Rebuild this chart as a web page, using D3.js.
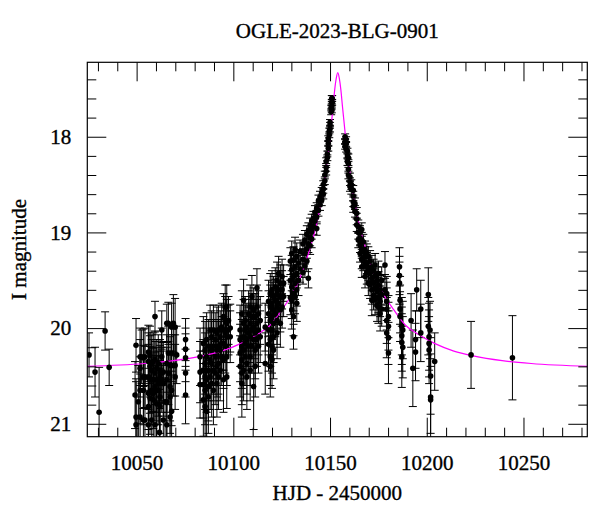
<!DOCTYPE html>
<html>
<head>
<meta charset="utf-8">
<script src="https://cdn.jsdelivr.net/npm/d3@7"></script>
<style>
  body { margin: 0; background: #fff; }
  text { font-family: "Liberation Serif", "Times New Roman", serif; }
</style>
</head>
<body>
<svg id="chart" width="600" height="512"></svg>
<script>
// light curve points: [HJD-2450000, I mag, error]
var earlyBase = [
  [10025.4,20.28,0.23],[10028.5,20.46,0.26],[10030.6,20.88,0.47],[10033.7,20.03,0.20],[10035.8,20.41,0.19]
];
var season1 = [
  [10049.2,20.70,0.35],[10049.7,20.18,0.28],[10049.7,20.93,0.40],[10049.7,21.01,0.45],
  [10050.9,20.77,0.38],
  [10051.8,20.30,0.30],[10051.8,20.42,0.30],[10051.8,20.65,0.35],[10051.8,20.93,0.45],
  [10052.6,20.30,0.28],
  [10053.5,20.31,0.30],[10053.5,20.51,0.33],[10053.5,20.65,0.36],[10053.5,20.96,0.42],
  [10054.3,20.30,0.30],[10054.3,20.51,0.32],[10054.3,20.96,0.45],
  [10056.1,20.25,0.28],[10056.1,20.35,0.30],[10056.1,20.51,0.34],[10056.1,20.68,0.38],[10056.1,20.82,0.40],[10056.1,21.01,0.45],
  [10056.9,20.28,0.30],[10056.9,20.40,0.32],[10056.9,20.54,0.35],[10056.9,20.73,0.38],
  [10057.8,20.37,0.30],[10057.8,20.44,0.32],[10057.8,20.54,0.34],[10057.8,20.65,0.36],[10057.8,20.96,0.44],
  [10058.6,20.35,0.30],[10058.6,20.54,0.33],[10058.6,20.68,0.37],[10058.6,20.75,0.40],
  [10059.5,19.88,0.16],[10059.5,20.33,0.30],[10059.5,20.47,0.33],[10059.5,20.61,0.36],[10059.5,21.01,0.45],
  [10060.4,20.42,0.30],[10060.4,20.54,0.34],[10060.4,20.65,0.36],[10060.4,20.79,0.40],
  [10061.2,20.37,0.30],[10061.2,20.58,0.34],[10061.2,20.65,0.36],[10061.8,21.09,0.45],
  [10062.1,20.44,0.32],[10062.1,20.51,0.33],[10062.1,20.72,0.38],[10062.1,20.82,0.40],
  [10063.0,20.02,0.20],[10063.0,20.30,0.30],[10063.0,20.47,0.32],[10063.0,20.54,0.34],
  [10063.8,20.46,0.32],[10063.8,20.58,0.34],[10063.8,20.96,0.44],
  [10064.7,20.77,0.38],
  [10065.6,19.95,0.20],[10065.6,20.37,0.30],[10065.6,20.54,0.34],[10065.6,20.77,0.40],[10065.6,21.01,0.45],
  [10066.4,19.95,0.22],[10066.4,20.26,0.28],[10066.4,20.47,0.33],
  [10067.3,20.39,0.30],[10067.3,20.61,0.36],[10067.3,20.72,0.38],[10067.3,20.93,0.44],
  [10068.1,19.99,0.25],[10068.1,20.26,0.30],[10068.1,20.65,0.37],[10068.1,20.87,0.42],
  [10069.0,19.95,0.30],[10069.0,20.39,0.32],
  [10069.9,19.99,0.30],[10069.9,20.39,0.32],[10069.9,20.51,0.34],
  [10070.7,20.28,0.30],
  [10075.3,20.12,0.22],[10075.3,20.22,0.22],[10075.3,20.31,0.25],[10075.3,20.47,0.25],[10075.3,20.70,0.30]
];
var season2 = [
  [10082.8,20.30,0.30],[10082.8,20.46,0.32],[10082.8,20.59,0.35],
  [10084.5,20.16,0.28],[10084.5,20.44,0.32],[10084.5,20.59,0.35],[10084.5,20.75,0.38],
  [10085.4,20.23,0.30],[10085.4,20.37,0.32],[10085.4,20.51,0.34],[10085.4,20.65,0.36],[10085.4,20.82,0.40],
  [10086.2,20.12,0.28],[10086.2,20.30,0.30],[10086.2,20.54,0.34],[10086.2,20.87,0.42],
  [10087.1,20.19,0.28],[10087.1,20.44,0.32],[10087.1,20.61,0.36],[10087.1,20.72,0.38],
  [10088.0,20.02,0.26],[10088.0,20.33,0.30],[10088.0,20.51,0.34],
  [10088.8,20.09,0.27],[10088.8,20.23,0.30],[10088.8,20.37,0.32],[10088.8,20.58,0.35],
  [10089.7,20.02,0.26],[10089.7,20.19,0.28],[10089.7,20.44,0.32],[10089.7,20.65,0.36],
  [10090.6,20.12,0.28],[10090.6,20.30,0.30],[10090.6,20.47,0.33],
  [10091.5,20.05,0.27],[10091.5,20.23,0.30],[10091.5,20.40,0.32],[10091.5,20.58,0.35],
  [10092.3,20.02,0.26],[10092.3,20.19,0.28],[10092.3,20.37,0.32],[10092.3,20.51,0.34],
  [10093.2,20.09,0.27],[10093.2,20.23,0.30],[10093.2,20.44,0.32],
  [10094.0,19.99,0.25],[10094.0,20.16,0.28],[10094.0,20.30,0.30],
  [10094.9,19.88,0.24],[10094.9,20.02,0.26],[10094.9,20.16,0.28],[10094.9,20.33,0.30],[10094.9,20.54,0.34],
  [10095.8,19.78,0.23],[10095.8,19.92,0.25],[10095.8,20.05,0.27],[10095.8,20.19,0.28],
  [10096.6,19.78,0.23],[10096.6,19.95,0.25],[10096.6,20.09,0.27],[10096.6,20.30,0.30],[10096.6,20.51,0.33],
  [10097.5,19.92,0.25],[10097.5,20.02,0.26],
  [10098.4,20.00,0.25],[10098.4,20.09,0.27]
];
var season3 = [
  [10103.5,20.02,0.26],[10103.5,20.12,0.28],[10103.5,20.26,0.30],[10103.5,20.40,0.32],
  [10104.4,19.85,0.24],[10104.4,20.19,0.28],[10104.4,20.33,0.30],[10104.4,20.47,0.33],[10104.4,20.58,0.35],
  [10105.3,19.71,0.22],[10105.3,19.95,0.25],[10105.3,20.09,0.27],[10105.3,20.23,0.30],[10105.3,20.44,0.32],
  [10106.1,19.92,0.25],[10106.1,20.02,0.26],[10106.1,20.16,0.28],[10106.1,20.30,0.30],
  [10107.0,19.99,0.25],[10107.0,20.12,0.28],[10107.0,20.37,0.32],[10107.0,20.51,0.34],
  [10107.9,19.85,0.24],[10107.9,20.05,0.27],[10107.9,20.19,0.28],
  [10108.7,19.78,0.23],[10108.7,19.95,0.25],[10108.7,20.09,0.27],[10108.7,20.30,0.30],[10108.7,20.44,0.32],
  [10109.6,19.67,0.22],[10109.6,19.88,0.24],[10109.6,20.02,0.26],[10109.6,20.19,0.28],
  [10110.5,19.81,0.23],[10110.5,19.99,0.25],[10110.5,20.12,0.28],[10110.5,20.61,0.45],
  [10111.3,19.88,0.24],[10111.3,20.05,0.27],[10111.3,20.23,0.30],[10111.3,20.40,0.32],
  [10112.2,19.58,0.20],[10112.2,19.78,0.23],[10112.2,19.95,0.25],[10112.2,20.12,0.28],
  [10113.0,19.85,0.24],[10113.0,20.02,0.26],[10113.0,20.19,0.28],
  [10113.9,19.92,0.25],[10113.9,20.09,0.27],
  [10116.5,19.99,0.25],[10116.5,20.37,0.32],
  [10118.2,19.72,0.22],[10118.2,19.85,0.24],[10118.2,20.02,0.26],[10118.2,20.17,0.28],
  [10119.1,19.64,0.21],[10119.1,19.78,0.23],[10119.1,19.92,0.25],[10119.1,20.12,0.28],[10119.1,20.30,0.30],[10119.1,20.40,0.32],
  [10120.0,19.60,0.20],[10120.0,19.74,0.22],[10120.0,19.88,0.24],[10120.0,20.02,0.26],[10120.0,20.19,0.28],[10120.0,20.33,0.30],
  [10120.8,19.67,0.21],[10120.8,19.81,0.23],[10120.8,19.95,0.25],[10120.8,20.09,0.27],[10120.8,20.23,0.30],
  [10121.7,19.57,0.20],[10121.7,19.71,0.22],[10121.7,19.85,0.24],
  [10122.6,19.50,0.19],[10122.6,19.64,0.21],[10122.6,19.78,0.23],[10122.6,19.92,0.25],[10122.6,20.05,0.27],
  [10123.4,19.43,0.18],[10123.4,19.60,0.20],[10123.4,19.74,0.22],
  [10124.3,19.53,0.19],[10124.3,19.67,0.21],[10124.3,19.81,0.23],[10124.3,19.95,0.25],
  [10125.2,19.46,0.18],[10125.2,19.60,0.20],[10125.2,19.78,0.22],
  [10126.0,19.53,0.19],[10126.0,19.67,0.21]
];
var rise = [
  [10129.5,19.30,0.14],[10129.5,19.50,0.16],[10129.5,19.68,0.18],
  [10130.2,19.22,0.13],[10130.2,19.39,0.15],[10130.2,19.57,0.17],[10130.2,19.71,0.19],[10130.2,19.81,0.20],
  [10131.1,19.29,0.14],[10131.1,19.46,0.16],[10131.1,19.64,0.18],[10131.1,19.88,0.20],[10131.1,20.09,0.13],
  [10131.9,19.18,0.13],[10131.9,19.36,0.15],[10131.9,19.53,0.17],[10131.9,19.67,0.18],
  [10132.8,19.25,0.14],[10132.8,19.43,0.15],[10132.8,19.60,0.17],[10132.8,19.74,0.19],
  [10133.7,19.32,0.14],[10133.7,19.50,0.16],
  [10134.5,19.20,0.12],[10134.5,19.38,0.14],
  [10136.0,19.12,0.10],[10136.0,19.28,0.11],[10136.0,19.42,0.12],
  [10137.0,19.08,0.10],[10137.0,19.22,0.11],[10137.0,19.35,0.12],
  [10138.0,19.02,0.09],[10138.0,19.17,0.10],[10138.0,19.30,0.11],
  [10138.8,18.98,0.08],[10138.8,19.12,0.09],[10138.8,19.48,0.10],
  [10139.7,18.93,0.08],[10139.7,19.05,0.09],[10139.7,19.14,0.09],
  [10140.5,18.88,0.07],[10140.5,18.99,0.08],[10140.5,19.07,0.09],
  [10141.4,18.85,0.07],[10141.4,18.94,0.08],
  [10142.2,18.79,0.07],[10142.2,18.88,0.07],
  [10143.1,18.75,0.06],[10143.1,18.84,0.07],[10143.1,18.96,0.07],
  [10144.0,18.67,0.06],[10144.0,18.77,0.06],
  [10144.8,18.63,0.06],[10144.8,18.71,0.06],
  [10145.7,18.58,0.05],[10145.7,18.66,0.06]
];
var peak = [
  [10146.5,18.50,0.04],[10146.5,18.55,0.04],[10146.5,18.60,0.05],
  [10147.3,18.40,0.04],[10147.3,18.46,0.04],
  [10148.0,18.26,0.04],[10148.0,18.32,0.04],[10148.0,18.36,0.04],
  [10148.6,18.18,0.03],[10148.6,18.22,0.03],
  [10149.1,18.02,0.03],[10149.1,18.07,0.03],[10149.1,18.12,0.03],
  [10149.6,17.94,0.03],[10149.6,17.98,0.03],
  [10150.0,17.85,0.03],[10150.0,17.88,0.03],[10150.0,17.92,0.03],
  [10150.6,17.70,0.03],[10150.6,17.74,0.03],
  [10150.9,17.60,0.03],[10150.9,17.64,0.03],[10150.9,17.68,0.03],[10150.9,17.72,0.03],
  [10151.1,17.60,0.03],[10151.1,17.64,0.03]
];
var decline = [
  [10157.8,18.00,0.03],[10157.8,18.05,0.03],[10157.8,18.10,0.03],
  [10158.3,18.03,0.03],[10158.3,18.08,0.03],[10158.3,18.13,0.03],
  [10159.0,18.15,0.03],[10159.0,18.20,0.03],[10159.0,18.26,0.04],
  [10159.5,18.22,0.04],[10159.5,18.28,0.04],[10159.5,18.34,0.04],[10159.5,18.40,0.04],
  [10160.3,18.42,0.04],[10160.3,18.47,0.04],[10160.3,18.52,0.05],
  [10161.0,18.50,0.05],[10161.0,18.55,0.05],
  [10162.0,18.56,0.05],[10162.0,18.62,0.05],[10162.0,18.68,0.05],[10162.0,18.73,0.06],
  [10162.9,18.70,0.06],[10162.9,18.78,0.06],
  [10163.8,18.80,0.06],[10163.8,18.86,0.06],[10163.8,18.92,0.07],
  [10164.6,18.94,0.07],[10164.6,19.00,0.07],[10164.6,19.08,0.08],
  [10165.5,19.00,0.07],[10165.5,19.06,0.08],[10165.5,19.13,0.08],[10165.5,19.22,0.09],
  [10166.4,18.97,0.07],[10166.4,19.08,0.08],[10166.4,19.18,0.09],[10166.4,19.28,0.10],[10166.4,19.36,0.11],
  [10167.2,19.10,0.08],[10167.2,19.20,0.09],[10167.2,19.30,0.10],
  [10168.1,19.18,0.09],[10168.1,19.25,0.10],[10168.1,19.35,0.11],[10168.1,19.46,0.12],
  [10169.0,19.22,0.10],[10169.0,19.32,0.11],[10169.0,19.42,0.12],
  [10169.8,19.25,0.10],[10169.8,19.38,0.12],[10169.8,19.53,0.13],
  [10170.7,19.30,0.11],[10170.7,19.42,0.12],[10170.7,19.55,0.14],
  [10171.6,19.36,0.12],[10171.6,19.48,0.13],[10171.6,19.60,0.15],[10171.6,19.71,0.16],
  [10172.5,19.40,0.12],[10172.5,19.52,0.14],[10172.5,19.66,0.15],
  [10173.3,19.34,0.12],[10173.3,19.45,0.13],[10173.3,19.58,0.15],[10173.3,19.70,0.16],
  [10174.3,19.50,0.14],[10174.3,19.62,0.15],[10174.3,19.76,0.17],
  [10175.0,19.43,0.13],[10175.0,19.55,0.14],[10175.0,19.68,0.16],[10175.0,19.78,0.17],
  [10175.9,19.60,0.15],[10175.9,19.72,0.16],[10175.9,19.85,0.18],
  [10176.7,19.50,0.14],[10176.7,19.65,0.16],[10176.7,19.80,0.18],
  [10178.4,19.34,0.14],[10178.4,19.60,0.16],
  [10179.3,19.64,0.18],[10179.3,19.72,0.20],[10179.3,19.80,0.22],[10179.3,19.92,0.24],[10179.3,20.05,0.26],
  [10180.2,19.88,0.22],[10180.2,19.98,0.25],[10180.2,20.10,0.28],[10180.2,20.26,0.32]
];
var tail = [
  [10185.9,19.36,0.20],[10185.9,19.45,0.20],[10185.9,19.53,0.22],
  [10186.2,19.71,0.25],[10186.2,19.80,0.25],[10186.2,19.88,0.26],
  [10187.1,19.98,0.30],[10187.1,20.08,0.30],[10187.1,20.15,0.30],[10187.1,20.30,0.32],
  [10187.6,20.02,0.30],[10187.6,20.20,0.32],
  [10191.9,19.92,0.28],[10192.8,20.42,0.40],
  [10194.2,20.12,0.30],[10194.2,20.25,0.30],[10194.8,19.60,0.22],
  [10196.9,19.80,0.30],[10196.9,20.05,0.30],
  [10200.8,19.65,0.28],[10200.8,19.98,0.30],
  [10201.2,20.09,0.35],[10201.2,20.16,0.35],[10201.2,20.23,0.35],[10201.7,20.02,0.30],
  [10202.0,20.50,0.40],[10202.0,20.72,0.45],[10202.0,20.75,0.35],
  [10204.1,20.35,0.30]
];
var lateBase = [
  [10222.9,20.28,0.35],[10244.3,20.31,0.44]
];

// model curve
var modelHJD = [10024, 10054, 10069, 10084, 10094, 10104, 10112, 10119, 10125, 10130, 10134, 10137, 10140,
  10142.5, 10144.5, 10146, 10147.5, 10148.8, 10149.8, 10150.8, 10151.6, 10152.4, 10153.2, 10154,
  10154.8, 10155.6, 10156.4, 10157.2, 10158.2, 10159.2, 10160.5, 10162, 10163.5, 10165.5, 10168,
  10171, 10174, 10178, 10183, 10189, 10196, 10204, 10214, 10224, 10239, 10254, 10284];
var modelMag = [20.40, 20.37, 20.34, 20.29, 20.24, 20.16, 20.07, 19.97, 19.81, 19.66, 19.50, 19.33, 19.14,
  18.96, 18.77, 18.61, 18.41, 18.21, 18.04, 17.84, 17.68, 17.51, 17.39, 17.33,
  17.39, 17.51, 17.68, 17.84, 18.04, 18.21, 18.41, 18.61, 18.77, 18.96, 19.14,
  19.33, 19.50, 19.66, 19.81, 19.97, 20.07, 20.16, 20.24, 20.29, 20.34, 20.37, 20.40];

var xMajor = [10050, 10100, 10150, 10200, 10250];
var xMinor = [10030, 10040, 10060, 10070, 10080, 10090, 10110, 10120, 10130, 10140, 10160, 10170,
  10180, 10190, 10210, 10220, 10230, 10240, 10260, 10270, 10280];
var yMajor = [18, 19, 20, 21];
var yMinor = [17.4, 17.6, 17.8, 18.2, 18.4, 18.6, 18.8, 19.2, 19.4, 19.6, 19.8, 20.2, 20.4, 20.6, 20.8];

var frame = {left: 87.3, right: 587.3, top: 62.3, bottom: 436.7}
var svg = d3.select("#chart")

var x = d3.scaleLinear().domain([10024.5, 10283]).range([frame.left, frame.right])
var y = d3.scaleLinear().domain([17.222, 21.135]).range([frame.top, frame.bottom])

svg.append("clipPath").attr("id", "plotClip")
   .append("rect")
   .attr("x", frame.left).attr("y", frame.top)
   .attr("width", frame.right - frame.left).attr("height", frame.bottom - frame.top)

var points = [].concat(earlyBase, season1, season2, season3, rise, peak, decline, tail, lateBase)
var plot = svg.append("g").attr("clip-path", "url(#plotClip)")

// error bars
plot.selectAll("line.bar").data(points).enter().append("line")
   .attr("class", "bar")
   .attr("x1", function(d){ return x(d[0]) }).attr("x2", function(d){ return x(d[0]) })
   .attr("y1", function(d){ return y(d[1] - d[2]) }).attr("y2", function(d){ return y(d[1] + d[2]) })
   .attr("stroke", "#000").attr("stroke-width", 1)
var caps = []
points.forEach(function(d){ caps.push([d[0], d[1] - d[2]]); caps.push([d[0], d[1] + d[2]]) })
plot.selectAll("line.cap").data(caps).enter().append("line")
   .attr("class", "cap")
   .attr("x1", function(d){ return x(d[0]) - 4 }).attr("x2", function(d){ return x(d[0]) + 4 })
   .attr("y1", function(d){ return y(d[1]) }).attr("y2", function(d){ return y(d[1]) })
   .attr("stroke", "#000").attr("stroke-width", 1)

// model
var model = modelHJD.map(function(t, i){ return [t, modelMag[i]] })
plot.append("path").datum(model)
   .attr("fill", "none").attr("stroke", "#ff00ff").attr("stroke-width", 1.2)
   .attr("d", d3.line().x(function(d){ return x(d[0]) }).y(function(d){ return y(d[1]) }).curve(d3.curveMonotoneX))

// points
plot.selectAll("circle").data(points).enter().append("circle")
   .attr("cx", function(d){ return x(d[0]) })
   .attr("cy", function(d){ return y(d[1]) })
   .attr("r", 2.8).attr("fill", "#000")

// axes, ticks inside on all four sides
function styleAxis(g){
   g.select(".domain").remove()
   g.selectAll("line").attr("stroke", "#000")
   g.selectAll("text").attr("font-size", 21).attr("font-family", "Liberation Serif, serif")
    .attr("fill", "#000").attr("stroke", "#000").attr("stroke-width", 0.35)
}
svg.append("g").attr("transform", "translate(0," + frame.bottom + ")")
   .call(d3.axisBottom(x).tickValues(xMajor).tickSize(-19).tickPadding(18).tickFormat(d3.format("d"))).call(styleAxis)
svg.append("g").attr("transform", "translate(0," + frame.bottom + ")")
   .call(d3.axisBottom(x).tickValues(xMinor).tickSize(-9).tickFormat("")).call(styleAxis)
svg.append("g").attr("transform", "translate(0," + frame.top + ")")
   .call(d3.axisTop(x).tickValues(xMajor).tickSize(-19).tickFormat("")).call(styleAxis)
svg.append("g").attr("transform", "translate(0," + frame.top + ")")
   .call(d3.axisTop(x).tickValues(xMinor).tickSize(-9).tickFormat("")).call(styleAxis)
svg.append("g").attr("transform", "translate(" + frame.left + ",0)")
   .call(d3.axisLeft(y).tickValues(yMajor).tickSize(-19).tickPadding(16).tickFormat(d3.format("d"))).call(styleAxis)
svg.append("g").attr("transform", "translate(" + frame.left + ",0)")
   .call(d3.axisLeft(y).tickValues(yMinor).tickSize(-9).tickFormat("")).call(styleAxis)
svg.append("g").attr("transform", "translate(" + frame.right + ",0)")
   .call(d3.axisRight(y).tickValues(yMajor).tickSize(-19).tickFormat("")).call(styleAxis)
svg.append("g").attr("transform", "translate(" + frame.right + ",0)")
   .call(d3.axisRight(y).tickValues(yMinor).tickSize(-9).tickFormat("")).call(styleAxis)

svg.append("rect")
   .attr("x", frame.left).attr("y", frame.top)
   .attr("width", frame.right - frame.left).attr("height", frame.bottom - frame.top)
   .attr("fill", "none").attr("stroke", "#000").attr("stroke-width", 1.2)

// labels
function label(sel){ return sel.attr("font-size", 21).attr("fill", "#000").attr("stroke", "#000").attr("stroke-width", 0.35) }
svg.append("text").attr("x", 337.3).attr("y", 38).attr("text-anchor", "middle")
   .call(label).text("OGLE-2023-BLG-0901")
svg.append("text").attr("x", 337.3).attr("y", 500).attr("text-anchor", "middle")
   .call(label).text("HJD - 2450000")
svg.append("text").attr("transform", "translate(26,249.5) rotate(-90)").attr("text-anchor", "middle")
   .call(label).text("I magnitude")
</script>
</body>
</html>
